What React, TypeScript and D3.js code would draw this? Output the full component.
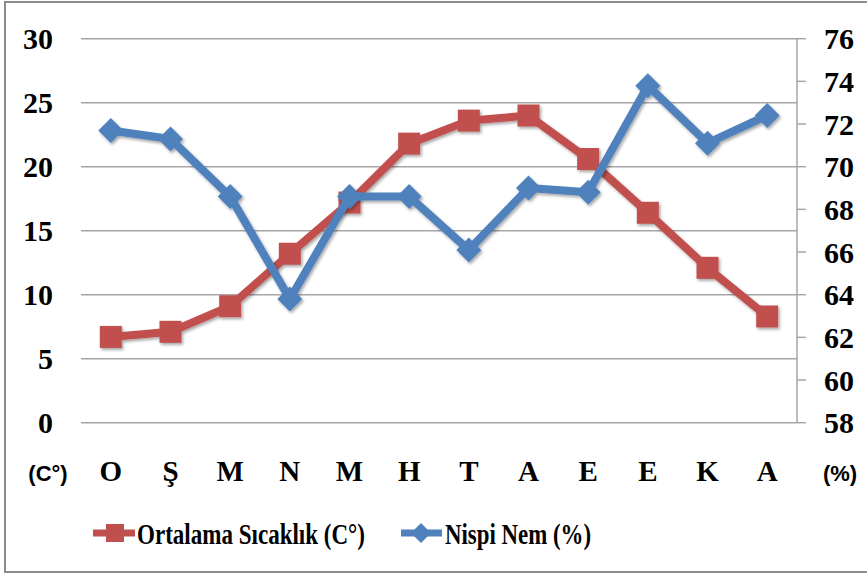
import React from 'react';
import * as d3 from 'd3';

// Data
const months = ['O', 'Ş', 'M', 'N', 'M', 'H', 'T', 'A', 'E', 'E', 'K', 'A'];
const temperature = [6.7, 7.1, 9.1, 13.2, 17.2, 21.8, 23.6, 24.0, 20.6, 16.4, 12.1, 8.3];
const humidity = [71.7, 71.3, 68.6, 63.8, 68.6, 68.6, 66.1, 69.0, 68.8, 73.8, 71.1, 72.4];
const leftTicks = [0, 5, 10, 15, 20, 25, 30];
const rightTicks = [58, 60, 62, 64, 66, 68, 70, 72, 74, 76];
const tempName = 'Ortalama Sıcaklık (C°)';
const humName = 'Nispi Nem (%)';

const RED = '#C0504D';
const BLUE = '#4F81BD';
const SERIF = '"Liberation Serif", "Times New Roman", serif';
const SANS = '"Liberation Sans", Arial, sans-serif';

const App = () => {
  const W = 867;
  const H = 574;
  const margin = { top: 38.7, right: 70, bottom: 151.3, left: 81 };
  const plotW = W - margin.left - margin.right;
  const plotH = H - margin.top - margin.bottom;

  const x = d3.scaleBand<number>()
    .domain(months.map((_, i) => i))
    .range([margin.left, margin.left + plotW]);
  const yL = d3.scaleLinear().domain([0, 30]).range([margin.top + plotH, margin.top]);
  const yR = d3.scaleLinear().domain([58, 76]).range([margin.top + plotH, margin.top]);
  const cx = (i: number) => (x(i) as number) + x.bandwidth() / 2;

  const tempLine = d3.line<number>().x((_, i) => cx(i)).y(d => yL(d));
  const humLine = d3.line<number>().x((_, i) => cx(i)).y(d => yR(d));

  const sq = 22;
  const dm = 12.5;
  const diamond = (px: number, py: number, r: number) =>
    `M${px},${py - r}L${px + r},${py}L${px},${py + r}L${px - r},${py}Z`;

  const axisRight = margin.left + plotW;
  const labelY = 471;
  const legY = 533;

  return (
    <svg width={W} height={H} style={{ position: 'absolute', left: 0, top: 0 }}>
      <defs>
        <filter id="shadow" x="-20%" y="-20%" width="140%" height="140%">
          <feDropShadow dx="1.5" dy="2" stdDeviation="1.5" floodColor="#000" floodOpacity="0.35" />
        </filter>
      </defs>
      <rect x={0} y={0} width={W} height={H} fill="#fff" />
      <rect x={5} y={2} width={W - 3} height={570} fill="none" stroke="#8c8c8c" strokeWidth={2} />

      {/* grid lines */}
      {leftTicks.map(t => (
        <line key={'g' + t} x1={margin.left} x2={axisRight} y1={yL(t)} y2={yL(t)}
          stroke="#a6a6a6" strokeWidth={1.5} />
      ))}

      {/* right axis */}
      <line x1={axisRight} x2={axisRight} y1={margin.top} y2={margin.top + plotH} stroke="#a6a6a6" strokeWidth={1.5} />
      {rightTicks.map(t => (
        <g key={'r' + t}>
          <line x1={axisRight} x2={axisRight + 9} y1={yR(t)} y2={yR(t)} stroke="#a6a6a6" strokeWidth={1.5} />
          <text x={824} y={yR(t)} dy="0.35em" fontFamily={SERIF} fontWeight="bold" fontSize={30}>{t}</text>
        </g>
      ))}

      {/* left tick labels */}
      {leftTicks.map(t => (
        <text key={'l' + t} x={53} y={yL(t)} dy="0.35em" textAnchor="end"
          fontFamily={SERIF} fontWeight="bold" fontSize={30}>{t}</text>
      ))}

      {/* category labels */}
      {months.map((m, i) => (
        <text key={'c' + i} x={cx(i)} y={labelY} dy="0.35em" textAnchor="middle"
          fontFamily={SERIF} fontWeight="bold" fontSize={29}>{m}</text>
      ))}
      <text x={48} y={labelY + 2} dy="0.35em" textAnchor="middle" fontFamily={SANS} fontWeight="bold" fontSize={22}>(C°)</text>
      <text x={840} y={labelY + 2} dy="0.35em" textAnchor="middle" fontFamily={SANS} fontWeight="bold" fontSize={22}>(%)</text>

      {/* temperature series */}
      <g filter="url(#shadow)">
        <path d={tempLine(temperature) || ''} fill="none" stroke={RED} strokeWidth={8} strokeLinejoin="round" />
        {temperature.map((v, i) => (
          <rect key={'t' + i} x={cx(i) - sq / 2} y={yL(v) - sq / 2} width={sq} height={sq} fill={RED} />
        ))}
      </g>

      {/* humidity series */}
      <g filter="url(#shadow)">
        <path d={humLine(humidity) || ''} fill="none" stroke={BLUE} strokeWidth={8} strokeLinejoin="round" />
        {humidity.map((v, i) => (
          <path key={'h' + i} d={diamond(cx(i), yR(v), dm)} fill={BLUE} />
        ))}
      </g>

      {/* legend */}
      <line x1={93} x2={135} y1={legY} y2={legY} stroke={RED} strokeWidth={7} />
      <rect x={106} y={legY - 9} width={18} height={18} fill={RED} />
      <text x={137} y={legY} dy="0.35em" fontFamily={SERIF} fontWeight="bold" fontSize={30}
        textLength={228} lengthAdjust="spacingAndGlyphs">{tempName}</text>
      <line x1={401} x2={442} y1={legY} y2={legY} stroke={BLUE} strokeWidth={7} />
      <path d={diamond(421, legY, 10)} fill={BLUE} />
      <text x={445} y={legY} dy="0.35em" fontFamily={SERIF} fontWeight="bold" fontSize={30}
        textLength={146} lengthAdjust="spacingAndGlyphs">{humName}</text>
    </svg>
  );
};

export default App;
